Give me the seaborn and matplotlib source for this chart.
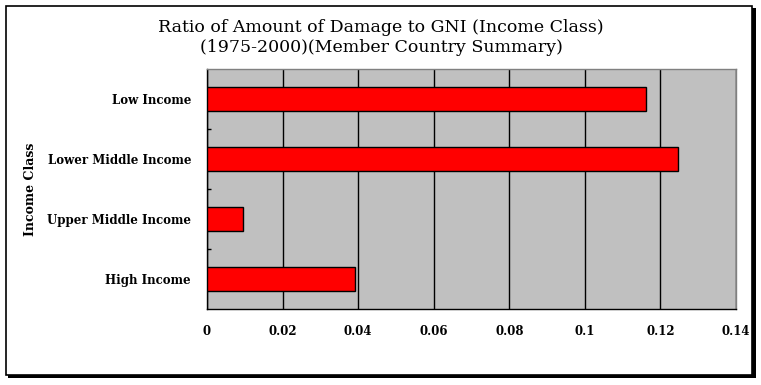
import matplotlib
matplotlib.use("Agg")
import matplotlib.pyplot as plt
import seaborn as sns
import pandas as pd
from matplotlib.patches import Rectangle

categories = ["Low Income", "Lower Middle Income", "Upper Middle Income", "High Income"]
values = [0.1162, 0.1246, 0.0095, 0.0392]
xticks = [0, 0.02, 0.04, 0.06, 0.08, 0.1, 0.12, 0.14]
xticklabels = ["0", "0.02", "0.04", "0.06", "0.08", "0.1", "0.12", "0.14"]

df = pd.DataFrame({"Income Class": categories, "Ratio": values})

sns.set_theme(style="white")
plt.rcParams["font.family"] = ["DejaVu Serif", "Liberation Serif"]
plt.rcParams["text.color"] = "black"
plt.rcParams["xtick.color"] = "black"
plt.rcParams["ytick.color"] = "black"
plt.rcParams["axes.labelcolor"] = "black"

W, H = 761, 385
fig = plt.figure(figsize=(W / 100, H / 100), dpi=100)

# figure frame with shadow
fig.patches.append(Rectangle((8 / W, 1 - 378 / H), 748 / W, 370 / H, transform=fig.transFigure,
                             facecolor="black", edgecolor="none", zorder=-2))
fig.patches.append(Rectangle((5.5 / W, 1 - 375 / H), 746.5 / W, 369.5 / H, transform=fig.transFigure,
                             facecolor="white", edgecolor="black", linewidth=1.2, zorder=-1))

ax = fig.add_axes([207 / W, 1 - 309 / H, (736 - 207) / W, (309 - 69) / H])
ax.set_zorder(2)

ax.set_facecolor("#C0C0C0")
sns.barplot(data=df, x="Ratio", y="Income Class", orient="h", color="#FF0000",
            saturation=1, width=0.4, edgecolor="black", linewidth=1.0, ax=ax, zorder=3)

ax.set_xlim(0, 0.14)
ax.set_ylim(3.5, -0.5)
ax.set_xticks(xticks)
ax.set_xticklabels(xticklabels, fontsize=8.5, fontweight="bold")
ax.xaxis.grid(True, color="black", linewidth=1.0, zorder=1)
ax.set_axisbelow(True)
ax.tick_params(axis="x", length=0, pad=11.5)
ax.tick_params(axis="y", length=0, pad=11.5, labelsize=8.5)
for lab in ax.get_yticklabels():
    lab.set_fontweight("bold")
ax.set_yticks([0.5, 1.5, 2.5], minor=True)
ax.tick_params(axis="y", which="minor", length=3, direction="in", color="black", left=True)
ax.set_xlabel("")
ax.set_ylabel("Income Class", fontsize=9, fontweight="bold")
ax.yaxis.set_label_coords(-170 / (736 - 207), 0.5)

for side in ["left", "bottom"]:
    ax.spines[side].set_color("black")
    ax.spines[side].set_linewidth(1.0)
for side in ["top", "right"]:
    ax.spines[side].set_color("#808080")
    ax.spines[side].set_linewidth(1.0)

fig.text(381 / W, 1 - 27 / H, "Ratio of Amount of Damage to GNI (Income Class)",
         ha="center", va="center", fontsize=12.5)
fig.text(381 / W, 1 - 48 / H, "(1975-2000)(Member Country Summary)",
         ha="center", va="center", fontsize=12.5)

fig.savefig("out.png", dpi=100)
